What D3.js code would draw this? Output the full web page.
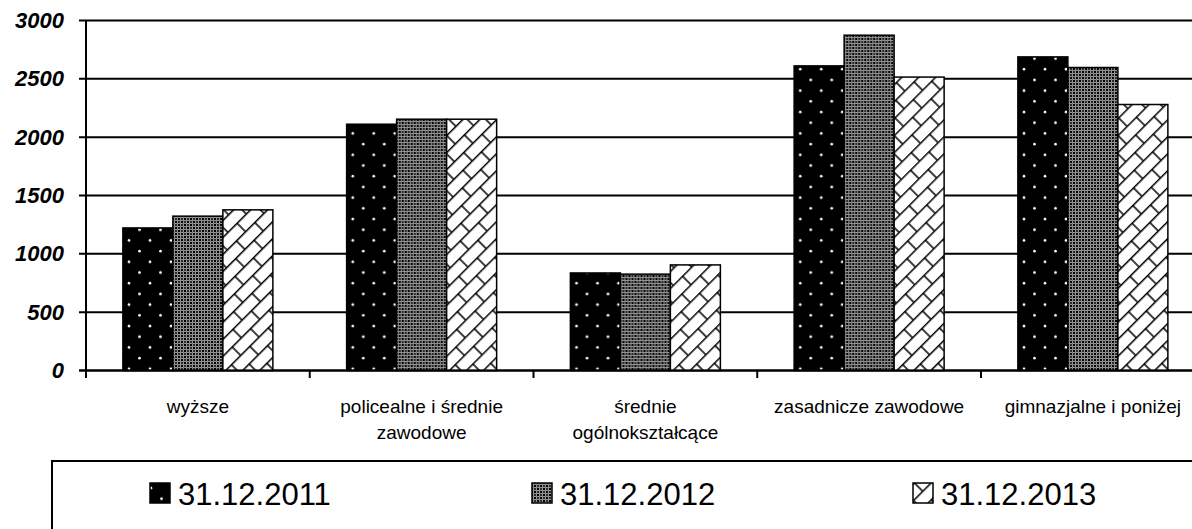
<!DOCTYPE html>
<html>
<head>
<meta charset="utf-8">
<script src="https://cdn.jsdelivr.net/npm/d3@7"></script>
<style>
  body { margin: 0; background: #fff; }
  svg { display: block; font-family: "Liberation Sans", Arial, sans-serif; }
</style>
</head>
<body>
<svg id="viz"></svg>
<script>
var width = 1192;
var height = 529;

// data
var categories = ["wyższe", "policealne i średnie zawodowe", "średnie ogólnokształcące", "zasadnicze zawodowe", "gimnazjalne i poniżej"];
var categoryLines = [["wyższe"], ["policealne i średnie", "zawodowe"], ["średnie", "ogólnokształcące"], ["zasadnicze zawodowe"], ["gimnazjalne i poniżej"]];
var series = ["31.12.2011", "31.12.2012", "31.12.2013"];
var values2011 = [1222, 2111, 836, 2611, 2688];
var values2012 = [1323, 2154, 826, 2874, 2597];
var values2013 = [1377, 2154, 905, 2515, 2280];
var yTicks = [0, 500, 1000, 1500, 2000, 2500, 3000];

var allValues = [values2011, values2012, values2013];
var fills = ["url(#pDots)", "url(#pCross)", "url(#pBrick)"];

var svg = d3.select("#viz").attr("width", width).attr("height", height);

// patterns
var defs = svg.append("defs");

var pd = defs.append("pattern").attr("id", "pDots")
    .attr("patternUnits", "userSpaceOnUse")
    .attr("width", 21).attr("height", 21.4)
    .attr("x", 122).attr("y", 0);
pd.append("rect").attr("width", 21).attr("height", 21.4).attr("fill", "#000");
pd.append("circle").attr("cx", 5).attr("cy", 5).attr("r", 1.3).attr("fill", "#fff");
pd.append("circle").attr("cx", 15.5).attr("cy", 15.7).attr("r", 1.3).attr("fill", "#fff");

var pc = defs.append("pattern").attr("id", "pCross")
    .attr("patternUnits", "userSpaceOnUse")
    .attr("width", 6).attr("height", 6);
pc.append("rect").attr("width", 6).attr("height", 6).attr("fill", "#000");
[[0, 0], [6, 0], [0, 6], [6, 6], [3, 3]].forEach(function (p) {
    pc.append("circle").attr("cx", p[0]).attr("cy", p[1]).attr("r", 1.8)
        .attr("fill", "none").attr("stroke", "#ddd").attr("stroke-width", 0.75);
});

var pb = defs.append("pattern").attr("id", "pBrick")
    .attr("patternUnits", "userSpaceOnUse")
    .attr("width", 26).attr("height", 24)
    .attr("patternTransform", "rotate(-45)");
pb.append("rect").attr("width", 26).attr("height", 24).attr("fill", "#fff");
pb.append("path")
    .attr("d", "M0,0.7H26M0,12.7H26M1,0V12.7M14,12.7V24")
    .attr("stroke", "#000").attr("stroke-width", 1.5).attr("fill", "none");

// scales
var x0 = d3.scaleBand().domain(categories).range([86, 86 + 5 * 223.75]);
var x1 = d3.scaleBand().domain(series).range([0, x0.bandwidth()]).paddingOuter(0.7375);
var y = d3.scaleLinear().domain([0, 3000]).range([370.5, 20.5]);

// gridlines (with left tick)
svg.append("g").selectAll("line")
    .data(yTicks)
    .enter().append("line")
    .attr("x1", 79).attr("x2", width)
    .attr("y1", function (d) { return y(d); })
    .attr("y2", function (d) { return y(d); })
    .attr("stroke", "#000").attr("stroke-width", 2);

// y labels
svg.append("g").selectAll("text")
    .data(yTicks)
    .enter().append("text")
    .attr("x", 64)
    .attr("y", function (d) { return y(d) + 7.5; })
    .attr("text-anchor", "end")
    .attr("font-size", 22).attr("font-weight", "bold").attr("font-style", "italic")
    .text(function (d) { return d; });

// bars
var groups = svg.append("g").selectAll("g")
    .data(categories)
    .enter().append("g")
    .attr("transform", function (d) { return "translate(" + x0(d) + ",0)"; });

groups.selectAll("rect")
    .data(function (c, i) {
        return series.map(function (s, j) { return { s: s, j: j, v: allValues[j][i] }; });
    })
    .enter().append("rect")
    .attr("x", function (d) { return x1(d.s); })
    .attr("y", function (d) { return y(d.v); })
    .attr("width", x1.bandwidth())
    .attr("height", function (d) { return y(0) - y(d.v); })
    .attr("fill", function (d) { return fills[d.j]; })
    .attr("stroke", "#000").attr("stroke-width", 1.5);

// axes lines
svg.append("line")
    .attr("x1", 86).attr("x2", 86).attr("y1", y(3000)).attr("y2", 378)
    .attr("stroke", "#000").attr("stroke-width", 2);
svg.append("line")
    .attr("x1", 79).attr("x2", width).attr("y1", y(0)).attr("y2", y(0))
    .attr("stroke", "#000").attr("stroke-width", 2);

// category boundary ticks
svg.append("g").selectAll("line")
    .data(categories)
    .enter().append("line")
    .attr("x1", function (d) { return x0(d) + x0.bandwidth(); })
    .attr("x2", function (d) { return x0(d) + x0.bandwidth(); })
    .attr("y1", y(0)).attr("y2", 378)
    .attr("stroke", "#000").attr("stroke-width", 2);

// category labels
var lab = svg.append("g").selectAll("text")
    .data(categories)
    .enter().append("text")
    .attr("text-anchor", "middle")
    .attr("font-size", 19)
    .attr("transform", function (d) { return "translate(" + (x0(d) + x0.bandwidth() / 2) + ",0)"; });
lab.selectAll("tspan")
    .data(function (d, i) { return categoryLines[i]; })
    .enter().append("tspan")
    .attr("x", 0)
    .attr("y", function (d, i) { return 413 + i * 26; })
    .text(function (d) { return d; });

// legend
svg.append("rect")
    .attr("x", 52).attr("y", 461).attr("width", 1200).attr("height", 100)
    .attr("fill", "none").attr("stroke", "#000").attr("stroke-width", 2);

var legendX = [150, 532, 913];
var leg = svg.append("g").selectAll("g")
    .data(series)
    .enter().append("g")
    .attr("transform", function (d, i) { return "translate(" + legendX[i] + ",483)"; });
leg.append("rect")
    .attr("width", 20).attr("height", 20)
    .attr("fill", function (d, i) { return fills[i]; })
    .attr("stroke", "#000").attr("stroke-width", 1.5);
leg.append("text")
    .attr("x", 28).attr("y", 21.5)
    .attr("font-size", 31)
    .text(function (d) { return d; });
</script>
</body>
</html>
